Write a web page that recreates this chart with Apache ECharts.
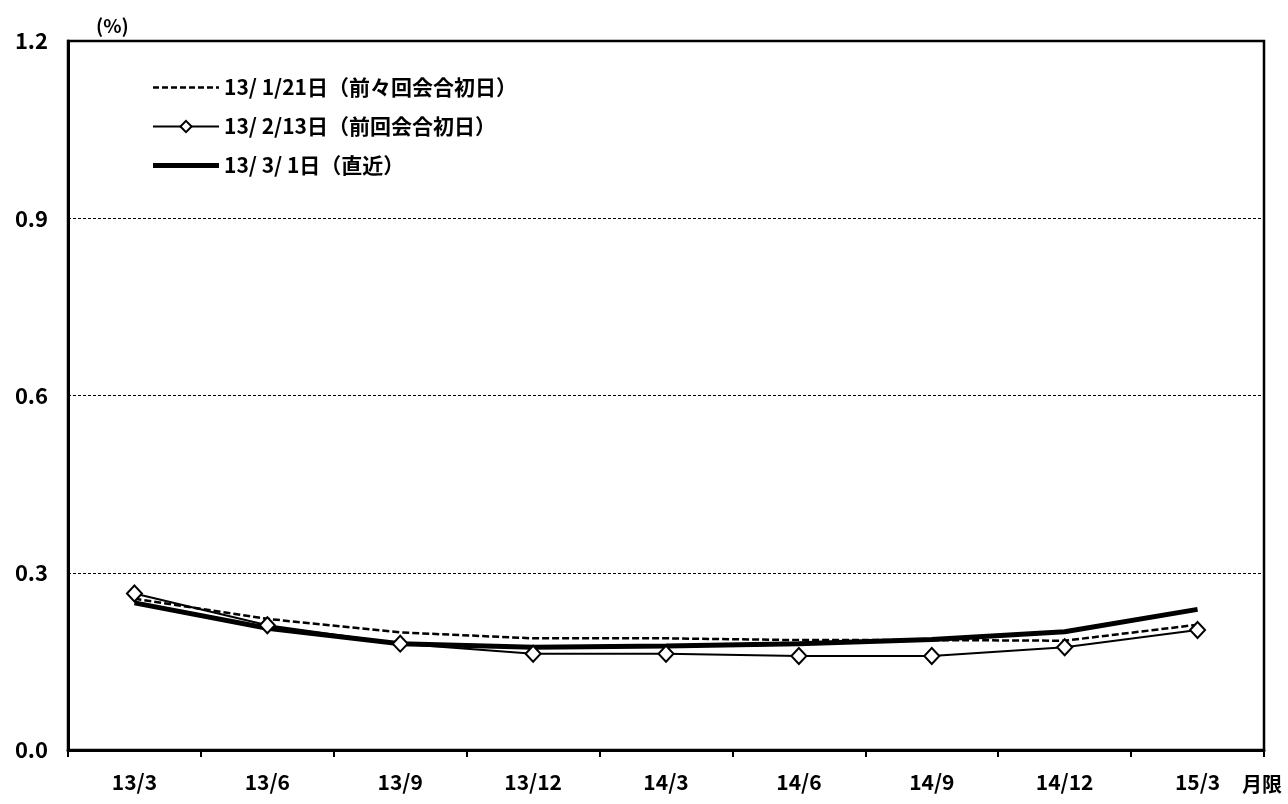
<!DOCTYPE html>
<html>
<head>
<meta charset="utf-8">
<script src="https://cdn.jsdelivr.net/npm/echarts@6/dist/echarts.min.js"></script>
<style>
  html, body { margin: 0; padding: 0; background: #fff; }
  #chart { width: 1288px; height: 804px; }
</style>
</head>
<body>
<div id="chart"></div>
<script>
// 限月
const months = ["13/3", "13/6", "13/9", "13/12", "14/3", "14/6", "14/9", "14/12", "15/3"];
// 各時点のカーブ（%）
const jan21 = [0.256, 0.222, 0.199, 0.189, 0.189, 0.186, 0.186, 0.185, 0.212];
const feb13 = [0.265, 0.211, 0.180, 0.163, 0.163, 0.159, 0.159, 0.174, 0.203];
const mar01 = [0.249, 0.206, 0.180, 0.174, 0.176, 0.180, 0.187, 0.200, 0.238];
const seriesNames = ["13/ 1/21日（前々回会合初日）", "13/ 2/13日（前回会合初日）", "13/ 3/ 1日（直近）"];

const font = "'Noto Sans CJK JP', 'Noto Sans', sans-serif";

// 凡例アイコン（破線・太線）
let dashIcon = "path://";
for (let x = 0; x < 66; x += 9) {
  const w = Math.min(6, 66 - x);
  dashIcon += `M${x},0 h${w} v2.5 h${-w} Z `;
}
const thickIcon = "path://M0,0 H66 V5 H0 Z";

let mychart = echarts.init(document.getElementById("chart"));
mychart.setOption({
  animation: false,
  backgroundColor: "#fff",
  textStyle: { fontFamily: font, color: "#000" },
  grid: {
    left: 68,
    right: 24,
    top: 41,
    bottom: 54,
    show: true,
    borderColor: "#000",
    borderWidth: 2.5
  },
  legend: {
    orient: "vertical",
    left: 147,
    top: 72,
    itemWidth: 66,
    itemHeight: 14,
    itemGap: 18,
    symbolKeepAspect: true,
    textStyle: { fontFamily: font, fontSize: 21, fontWeight: "bold", color: "#000" },
    data: [
      { name: seriesNames[0], icon: dashIcon },
      { name: seriesNames[1] },
      { name: seriesNames[2], icon: thickIcon }
    ]
  },
  xAxis: {
    type: "category",
    data: months,
    boundaryGap: true,
    name: "月限",
    nameLocation: "end",
    nameGap: -22,
    nameTextStyle: {
      fontFamily: font,
      fontSize: 20,
      fontWeight: "bold",
      color: "#000",
      align: "left",
      verticalAlign: "top",
      padding: [24, 0, 0, 0]
    },
    axisLine: { lineStyle: { color: "#000", width: 3 } },
    axisTick: { show: true, length: 7, lineStyle: { color: "#000", width: 2 } },
    axisLabel: { margin: 22, fontSize: 21, fontWeight: "bold", color: "#000" }
  },
  yAxis: {
    type: "value",
    min: 0,
    max: 1.2,
    interval: 0.3,
    name: "(%)",
    nameLocation: "end",
    nameGap: 6,
    nameTextStyle: {
      fontFamily: font,
      fontSize: 19,
      fontWeight: "bold",
      color: "#000",
      align: "left",
      padding: [0, 0, 0, 28]
    },
    axisLine: { show: true, lineStyle: { color: "#000", width: 3 } },
    axisTick: { show: false },
    axisLabel: {
      margin: 20,
      fontSize: 22,
      fontWeight: "bold",
      color: "#000",
      formatter: (v) => v.toFixed(1)
    },
    splitLine: { show: true, lineStyle: { color: "#000", width: 1, type: [3, 2] } }
  },
  series: [
    {
      name: seriesNames[0],
      type: "line",
      data: jan21,
      symbol: "none",
      color: "#000",
      lineStyle: { color: "#000", width: 2.5, type: [7, 3] },
      z: 2
    },
    {
      name: seriesNames[1],
      type: "line",
      data: feb13,
      symbol: "diamond",
      symbolSize: [15, 16],
      color: "#000",
      itemStyle: { color: "#fff", borderColor: "#000", borderWidth: 2 },
      lineStyle: { color: "#000", width: 2 },
      z: 4
    },
    {
      name: seriesNames[2],
      type: "line",
      data: mar01,
      symbol: "none",
      color: "#000",
      lineStyle: { color: "#000", width: 5 },
      z: 3
    }
  ]
});
window.addEventListener("resize", () => {
  mychart.resize();
});
</script>
</body>
</html>
